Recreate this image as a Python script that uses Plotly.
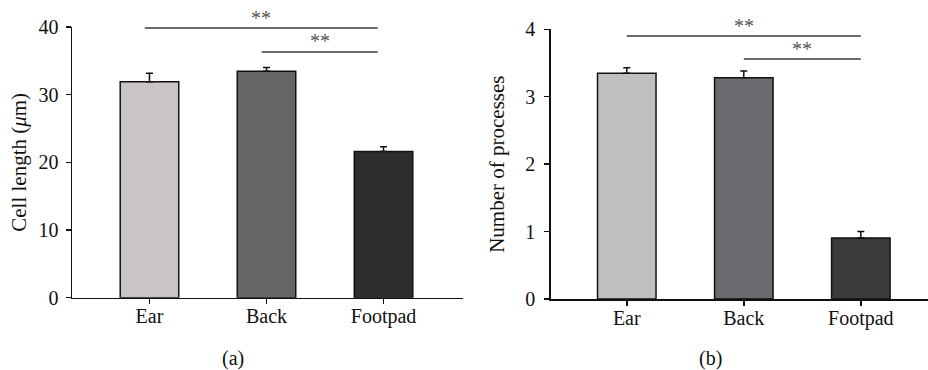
import plotly.graph_objects as go

categories = ["Ear", "Back", "Footpad"]

# Panel (a): cell length (μm)
length_mean = [31.9, 33.45, 21.6]
length_err = [1.25, 0.55, 0.7]
length_colors = ["#c9c5c5", "#666666", "#2d2d2d"]
length_ticks = [0, 10, 20, 30, 40]
length_range = [0, 40]

# Panel (b): number of processes
proc_mean = [3.35, 3.28, 0.905]
proc_err = [0.08, 0.10, 0.095]
proc_colors = ["#c0c0c0", "#6a6b6e", "#3b3b3b"]
proc_ticks = [0, 1, 2, 3, 4]
proc_range = [0, 4]

# significance brackets: start, end, bracket height, star height
sig_a_x0 = [-0.04, 0.96]
sig_a_x1 = [1.95, 1.95]
sig_a_y = [39.85, 36.3]
sig_a_ty = [41.7, 38.4]

sig_b_x0 = [0.0, 1.0]
sig_b_x1 = [2.0, 2.0]
sig_b_y = [3.9, 3.56]
sig_b_ty = [4.09, 3.75]
sig_text = "**"

FONT = "Liberation Serif"
TXT = "#111111"
W, H = 928, 370

fig = go.Figure()

def add_panel(xa, ya, means, errs, colors):
    fig.add_trace(go.Bar(
        x=[0, 1, 2], y=means, width=0.5,
        marker=dict(color=colors, line=dict(color="#111111", width=1.5)),
        error_y=dict(type="data", symmetric=False, array=errs,
                     arrayminus=[0, 0, 0], color="#111111",
                     thickness=1.5, width=3.5),
        xaxis=xa, yaxis=ya, showlegend=False, hoverinfo="skip"))

add_panel("x", "y", length_mean, length_err, length_colors)
add_panel("x2", "y2", proc_mean, proc_err, proc_colors)

def add_sig(xa, ya, x0s, x1s, ys, tys, yrange):
    for x0, x1, y, ty in zip(x0s, x1s, ys, tys):
        fig.add_trace(go.Scatter(
            x=[x0, x1], y=[y, y], mode="lines",
            line=dict(color="#3a3a3a", width=1.5),
            xaxis=xa, yaxis=ya, showlegend=False, hoverinfo="skip",
            cliponaxis=False))
        frac = (ty - yrange[0]) / (yrange[1] - yrange[0])
        fig.add_annotation(
            x=(x0 + x1) / 2, y=frac, xref=xa, yref=ya + " domain",
            text=sig_text, showarrow=False,
            font=dict(family=FONT, size=20, color="#555555"),
            xanchor="center", yanchor="middle", yshift=-3)

add_sig("x", "y", sig_a_x0, sig_a_x1, sig_a_y, sig_a_ty, length_range)
add_sig("x2", "y2", sig_b_x0, sig_b_x1, sig_b_y, sig_b_ty, proc_range)

axis_common = dict(showline=True, linecolor="#111111", linewidth=1.5,
                   ticks="outside", ticklen=5, tickwidth=1.5,
                   tickcolor="#111111", showgrid=False, zeroline=False,
                   automargin=False,
                   tickfont=dict(family=FONT, size=20, color=TXT))

fig.update_layout(
    width=W, height=H,
    margin=dict(l=0, r=0, t=0, b=0, pad=0, autoexpand=False),
    paper_bgcolor="white", plot_bgcolor="white",
    font=dict(family=FONT, color=TXT),
    xaxis=dict(domain=[72 / W, 463 / W], range=[-0.662, 2.679],
               tickmode="array", tickvals=[0, 1, 2], ticktext=categories,
               ticklabelstandoff=-5, anchor="y", **axis_common),
    yaxis=dict(domain=[(H - 297.7) / H, (H - 27) / H], range=length_range,
               tickmode="array", tickvals=length_ticks, ticklabelstandoff=3,
               title=dict(text="Cell length (<i>μ</i>m)",
                          font=dict(family=FONT, size=21, color=TXT),
                          standoff=6),
               anchor="x", **axis_common),
    xaxis2=dict(domain=[550.7 / W, 1.0], range=[-0.650, 2.574],
                tickmode="array", tickvals=[0, 1, 2], ticktext=categories,
                ticklabelstandoff=-5, anchor="y2", **axis_common),
    yaxis2=dict(domain=[(H - 299) / H, (H - 29.3) / H], range=proc_range,
                tickmode="array", tickvals=proc_ticks, ticklabelstandoff=5,
                title=dict(text="Number of processes",
                           font=dict(family=FONT, size=21, color=TXT),
                           standoff=15),
                anchor="x2", **axis_common),
)

fig.add_annotation(x=233 / W, y=(H - 358) / H, xref="paper", yref="paper",
                   text="(a)", showarrow=False,
                   font=dict(family=FONT, size=20, color=TXT),
                   xanchor="center", yanchor="middle")
fig.add_annotation(x=710.7 / W, y=(H - 358) / H, xref="paper", yref="paper",
                   text="(b)", showarrow=False,
                   font=dict(family=FONT, size=20, color=TXT),
                   xanchor="center", yanchor="middle")

fig.write_html("out.html",
               config={"displayModeBar": False, "staticPlot": True},
               post_script="document.body.style.margin='0';"
                           "document.body.style.overflow='hidden';")
